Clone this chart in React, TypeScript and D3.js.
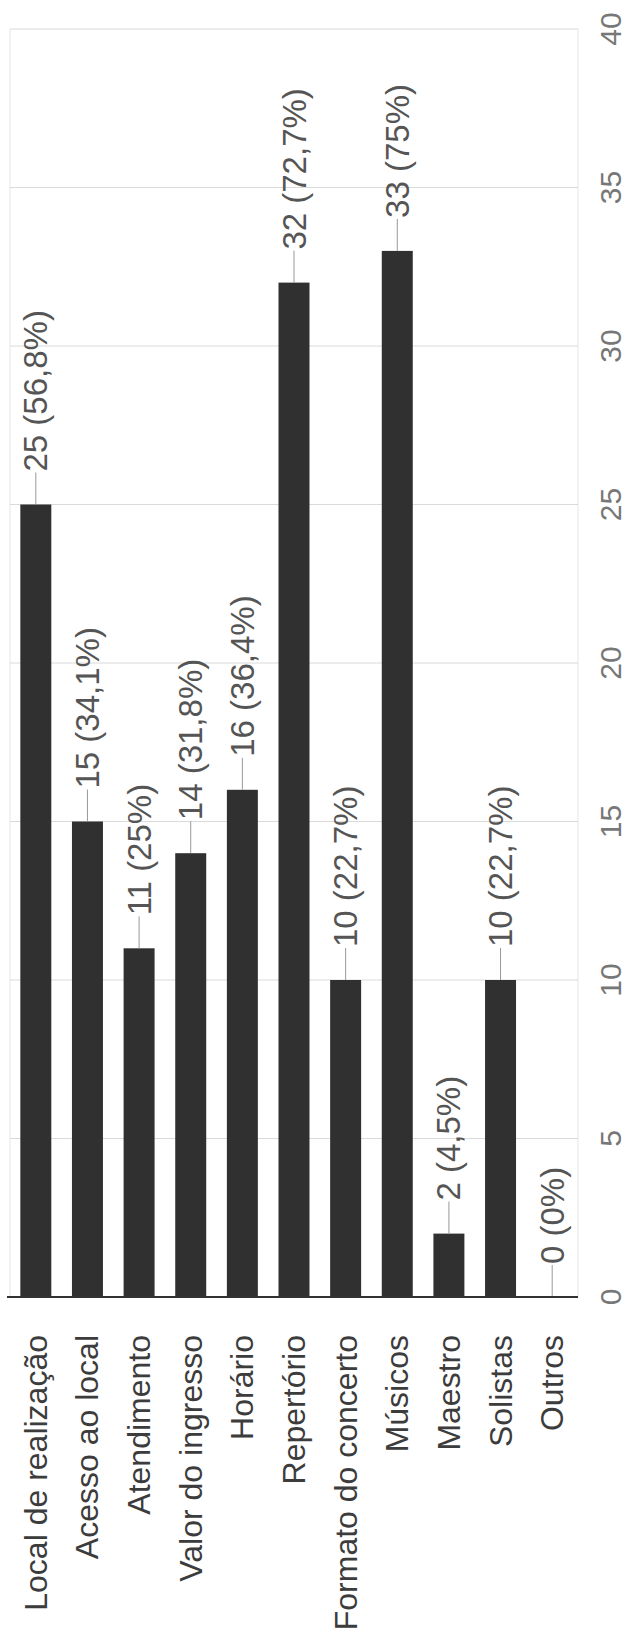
import React from "react";
import * as d3 from "d3";

const categories = [
  "Local de realização",
  "Acesso ao local",
  "Atendimento",
  "Valor do ingresso",
  "Horário",
  "Repertório",
  "Formato do concerto",
  "Músicos",
  "Maestro",
  "Solistas",
  "Outros",
];
const counts = [25, 15, 11, 14, 16, 32, 10, 33, 2, 10, 0];
const percents = ["56,8", "34,1", "25", "31,8", "36,4", "72,7", "22,7", "75", "4,5", "22,7", "0"];
const ticks = [0, 5, 10, 15, 20, 25, 30, 35, 40];

const W = 631;
const H = 1650;
const plot = { left: 10, right: 578, top: 29, bottom: 1297 };
const FONT = "'Liberation Sans', Arial, sans-serif";

export default function App() {
  const x = d3
    .scaleBand<string>()
    .domain(categories)
    .range([plot.left, plot.right])
    .paddingInner(0.4)
    .paddingOuter(0.2);
  const y = d3.scaleLinear().domain([0, 40]).range([plot.bottom, plot.top]);
  const stem = 32;

  return (
    <svg
      width={W}
      height={H}
      style={{ position: "absolute", left: 0, top: 0, background: "#fff" }}
      fontFamily={FONT}
    >
      <rect x={0} y={0} width={W} height={H} fill="#fff" />
      <line x1={plot.left} x2={plot.left} y1={plot.top} y2={plot.bottom} stroke="#e6e6e6" strokeWidth={1} />
      <line x1={plot.right} x2={plot.right} y1={plot.top} y2={plot.bottom} stroke="#e6e6e6" strokeWidth={1} />
      {ticks.map((t) => (
        <line
          key={"g" + t}
          x1={plot.left}
          x2={plot.right}
          y1={y(t)}
          y2={y(t)}
          stroke="#dadada"
          strokeWidth={1}
        />
      ))}
      {ticks.map((t) => (
        <text
          key={"t" + t}
          transform={`translate(${610},${y(t)}) rotate(-90)`}
          textAnchor="middle"
          dominantBaseline="central"
          fontSize={30}
          fill="#777"
        >
          {t}
        </text>
      ))}
      {categories.map((c, i) => (
        <rect
          key={"b" + c}
          x={x(c)}
          y={y(counts[i])}
          width={x.bandwidth()}
          height={y(0) - y(counts[i])}
          fill="#303030"
        />
      ))}
      {categories.map((c, i) => {
        const cx = (x(c) as number) + x.bandwidth() / 2;
        const top = y(counts[i]);
        return (
          <g key={"a" + c}>
            <line x1={cx} x2={cx} y1={top} y2={top - stem} stroke="#999" strokeWidth={1} />
            <text
              transform={`translate(${cx},${top - stem - 1}) rotate(-90)`}
              textAnchor="start"
              dominantBaseline="central"
              fontSize={33}
              fill="#555"
            >
              {`${counts[i]} (${percents[i]}%)`}
            </text>
          </g>
        );
      })}
      <line x1={plot.left - 3} x2={plot.right} y1={y(0)} y2={y(0)} stroke="#333" strokeWidth={2} />
      {categories.map((c) => {
        const cx = (x(c) as number) + x.bandwidth() / 2;
        return (
          <text
            key={"c" + c}
            transform={`translate(${cx},${1335}) rotate(-90)`}
            textAnchor="end"
            dominantBaseline="central"
            fontSize={32}
            fill="#3c3c3c"
          >
            {c}
          </text>
        );
      })}
    </svg>
  );
}
